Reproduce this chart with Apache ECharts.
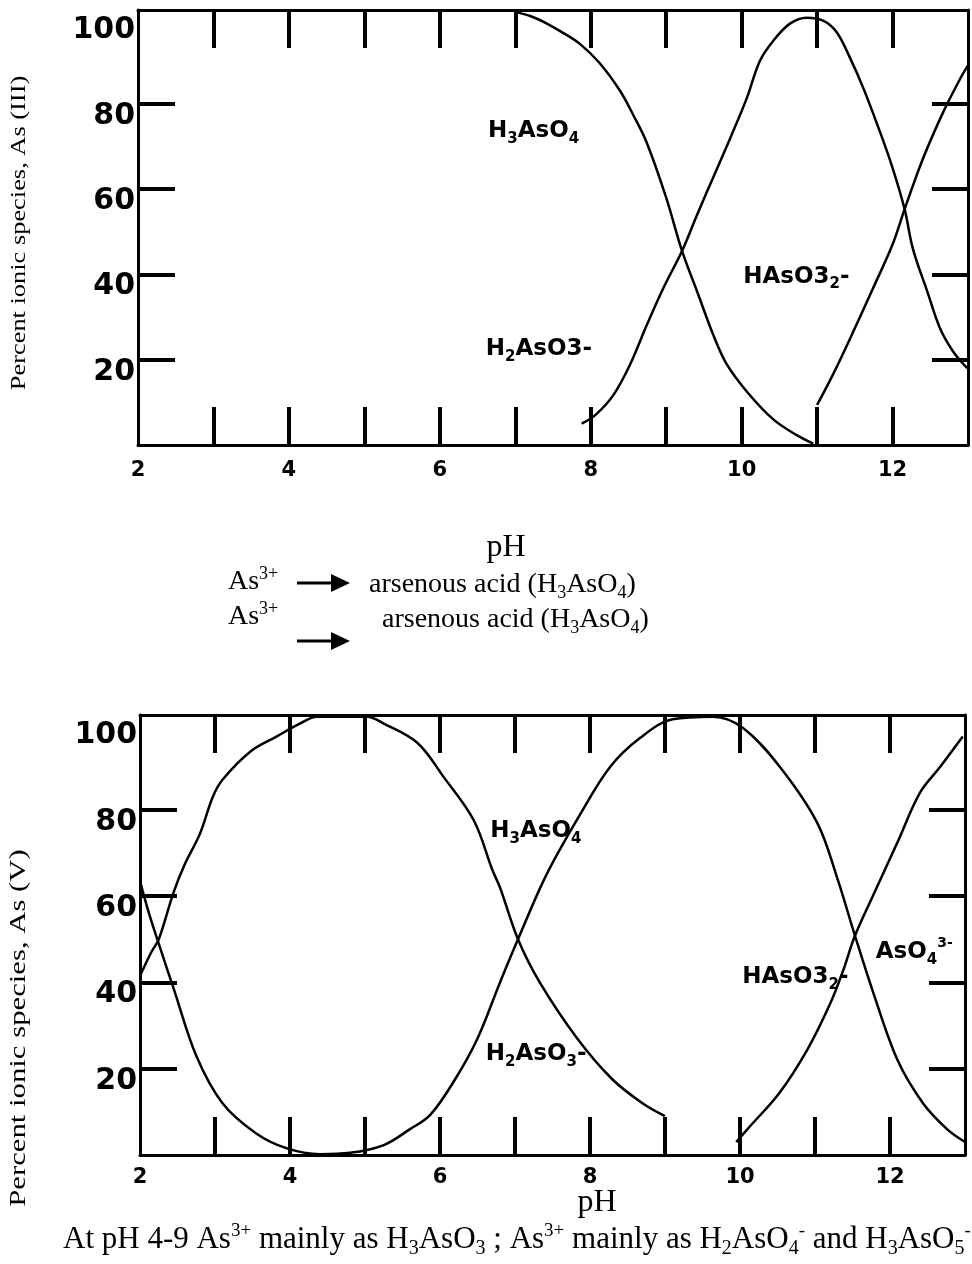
<!DOCTYPE html>
<html>
<head>
<meta charset="utf-8">
<script src="https://cdn.jsdelivr.net/npm/echarts@6/dist/echarts.min.js"></script>
<style>
  html, body { margin: 0; padding: 0; background: #fff; }
  #chart { width: 972px; height: 1264px; }
</style>
</head>
<body>
<div id="chart"></div>
<script>
// ---------- data ----------
const phMin = 2, phMax = 13;
const pctMin = 0, pctMax = 102;
const phTickValues = [3, 4, 5, 6, 7, 8, 9, 10, 11, 12];
const phLabelValues = [2, 4, 6, 8, 10, 12];
const pctTickValues = [20, 40, 60, 80];
const pctLabelValues = [20, 40, 60, 80, 100];

// As(III) panel
const as3_H3AsO4 = [[7.0,101.5],[7.2,100.6],[7.4,99],[7.6,97],[7.86,94],[8.12,89.5],[8.39,83],[8.56,77.5],[8.74,71],[9.0,58],[9.21,45.5],[9.41,36],[9.62,26],[9.8,19],[10.07,12.5],[10.42,6],[10.73,2.3],[10.95,0.3]];
const as3_H2AsO3 = [[7.88,5],[8.06,7],[8.3,11.7],[8.52,18.8],[8.74,28],[8.96,36.7],[9.21,45.5],[9.41,54],[9.62,62.6],[9.85,72],[10.07,81.4],[10.24,90],[10.42,94.8],[10.64,98.8],[10.86,100.2],[11.08,99.5],[11.26,96.8],[11.43,91],[11.61,83.8],[11.83,73.6],[12.0,65],[12.16,55.3],[12.27,46],[12.46,36],[12.63,27.3],[12.8,22],[12.99,18]];
const as3_HAsO3 = [[11.0,9.4],[11.21,16.5],[11.48,26.6],[11.74,36.7],[12.0,47],[12.16,55.3],[12.4,67],[12.67,78],[12.9,86],[13.0,89]];

// As(V) panel
const as5_curveA = [[2.0,63.5],[2.12,56],[2.25,49],[2.45,38.5],[2.75,23],[3.1,12],[3.55,5],[3.95,1.6],[4.4,0.2],[4.8,0.5],[5.25,2.3],[5.6,6],[5.87,9.3],[6.2,17.5],[6.5,27],[6.8,40],[7.04,50],[7.42,65],[7.87,79],[8.27,90],[8.67,96.7],[9.1,101],[9.64,101.6],[10.04,99],[10.53,90],[11.03,77],[11.3,64],[11.53,51],[11.77,38],[12.1,22],[12.44,12],[12.76,6],[13.0,3]];
const as5_curveB = [[2.0,41.5],[2.15,47],[2.25,50],[2.45,61],[2.6,67.5],[2.8,74.5],[2.97,83],[3.1,87],[3.47,93.5],[3.82,97],[4.13,100],[4.36,101.6],[5.03,101.6],[5.25,100],[5.7,95.5],[6.05,87.6],[6.45,77.6],[6.7,66],[6.8,62],[7.04,50],[7.33,40],[7.83,27],[8.3,17.5],[8.7,12],[9.0,9]];
const as5_curveC = [[9.95,3],[10.1,6],[10.53,14.5],[10.9,24.5],[11.2,35],[11.37,42.5],[11.53,50.7],[11.77,60],[12.1,72.5],[12.4,84],[12.67,90],[12.97,97]];

// species annotations: [pH, percent, rich text]
const as3Labels = [
  [6.64, 73.6, '{n|H}{s|3}{n|AsO}{s|4}'],
  [6.61, 22.6, '{n|H}{s|2}{n|AsO3-}'],
  [10.02, 39.5, '{n|HAsO3}{s|2}{n|-}']
];
const as5Labels = [
  [6.67, 75, '{n|H}{s|3}{n|AsO}{s|4}'],
  [6.61, 23.3, '{n|H}{s|2}{n|AsO}{s|3}{n|-}'],
  [10.03, 41.3, '{n|HAsO3}{s|2}{n|-}'],
  [11.81, 47, '{n|AsO}{s|4}{p|3-}']
];

// ---------- chart ----------
const BOLD = 'DejaVu Sans';
const SERIF = 'Liberation Serif';
const black = '#000';

function xAxes(grid, labelMargin) {
  return [
    {
      type: 'value', gridIndex: grid, position: 'bottom', min: phMin, max: phMax, interval: 1,
      axisLine: { show: true, onZero: false, lineStyle: { color: black, width: 3 } },
      axisTick: { show: true, inside: true, length: 38, customValues: phTickValues, lineStyle: { color: black, width: 4 } },
      axisLabel: { show: true, customValues: phLabelValues, margin: labelMargin, color: black, fontFamily: BOLD, fontWeight: 'bold', fontSize: 21 },
      splitLine: { show: false }
    },
    {
      type: 'value', gridIndex: grid, position: 'top', min: phMin, max: phMax, interval: 1,
      axisLine: { show: true, onZero: false, lineStyle: { color: black, width: 3 } },
      axisTick: { show: true, inside: true, length: 38, customValues: phTickValues, lineStyle: { color: black, width: 4 } },
      axisLabel: { show: false },
      splitLine: { show: false }
    }
  ];
}
function yAxes(grid) {
  return [
    {
      type: 'value', gridIndex: grid, position: 'left', min: pctMin, max: pctMax, interval: 20,
      axisLine: { show: true, onZero: false, lineStyle: { color: black, width: 3 } },
      axisTick: { show: true, inside: true, length: 37, customValues: pctTickValues, lineStyle: { color: black, width: 4 } },
      axisLabel: { show: true, customValues: pctLabelValues, margin: 3, color: black, fontFamily: BOLD, fontWeight: 'bold', fontSize: 30, verticalAlign: 'top', lineHeight: 24 },
      splitLine: { show: false }
    },
    {
      type: 'value', gridIndex: grid, position: 'right', min: pctMin, max: pctMax, interval: 20,
      axisLine: { show: true, onZero: false, lineStyle: { color: black, width: 3 } },
      axisTick: { show: true, inside: true, length: 36, customValues: pctTickValues, lineStyle: { color: black, width: 4 } },
      axisLabel: { show: false },
      splitLine: { show: false }
    }
  ];
}

const richSpecies = {
  n: { fontFamily: BOLD, fontWeight: 'bold', fontSize: 23, lineHeight: 31, color: black, opacity: 1 },
  s: { fontFamily: BOLD, fontWeight: 'bold', fontSize: 15, lineHeight: 15, verticalAlign: 'bottom', color: black, opacity: 1 },
  p: { fontFamily: BOLD, fontWeight: 'bold', fontSize: 14, lineHeight: 14, verticalAlign: 'top', color: black, opacity: 1 }
};

function lineSeries(data, xi, yi) {
  return {
    type: 'line', data: data, xAxisIndex: xi, yAxisIndex: yi,
    smooth: 0.35, showSymbol: false, symbol: 'none', silent: true,
    lineStyle: { color: black, width: 2.5 }
  };
}
function labelSeries(list, xi, yi) {
  return {
    type: 'scatter', xAxisIndex: xi, yAxisIndex: yi, silent: true,
    symbol: 'circle', symbolSize: 0,
    itemStyle: { color: black, opacity: 1 },
    label: { show: true, position: 'right', distance: 0, rich: richSpecies, color: black, opacity: 1, textBorderWidth: 0 },
    data: list.map(d => ({ value: [d[0], d[1]], label: { formatter: d[2] } }))
  };
}

const richSerif = {
  n: { fontFamily: SERIF, fontSize: 28, lineHeight: 34, color: black },
  s: { fontFamily: SERIF, fontSize: 18, lineHeight: 18, verticalAlign: 'bottom', color: black },
  p: { fontFamily: SERIF, fontSize: 18, lineHeight: 18, verticalAlign: 'top', color: black }
};
const richCaption = {
  n: { fontFamily: SERIF, fontSize: 31, lineHeight: 37, color: black },
  s: { fontFamily: SERIF, fontSize: 20, lineHeight: 20, verticalAlign: 'bottom', color: black },
  p: { fontFamily: SERIF, fontSize: 19, lineHeight: 19, verticalAlign: 'top', color: black }
};

function txt(x, y, text, rich, align, extra) {
  return Object.assign({
    type: 'text', x: x, y: y, silent: true,
    style: { text: text, rich: rich, align: align || 'left', verticalAlign: 'middle', fill: black }
  }, extra || {});
}
function arrow(x1, x2, y) {
  return {
    type: 'group', silent: true,
    children: [
      { type: 'line', shape: { x1: x1, y1: y, x2: x2 - 14, y2: y }, style: { stroke: black, lineWidth: 3 } },
      { type: 'polygon', shape: { points: [[x2 - 19, y - 9], [x2, y], [x2 - 19, y + 9]] }, style: { fill: black } }
    ]
  };
}

const option = {
  backgroundColor: '#fff',
  animation: false,
  grid: [
    { left: 138, top: 10, width: 830, height: 435 },
    { left: 140, top: 715, width: 825, height: 440 }
  ],
  xAxis: [].concat(xAxes(0, 15), xAxes(1, 12)),
  yAxis: [].concat(yAxes(0), yAxes(1)),
  series: [
    lineSeries(as3_H3AsO4, 0, 0),
    lineSeries(as3_H2AsO3, 0, 0),
    lineSeries(as3_HAsO3, 0, 0),
    labelSeries(as3Labels, 0, 0),
    lineSeries(as5_curveA, 2, 2),
    lineSeries(as5_curveB, 2, 2),
    lineSeries(as5_curveC, 2, 2),
    labelSeries(as5Labels, 2, 2)
  ],
  graphic: [
    // y axis titles
    txt(19, 233, '{n|Percent ionic species, As (III)}', { n: { fontFamily: SERIF, fontSize: 22, color: black } }, 'center',
      { rotation: Math.PI / 2, scaleX: 1.2 }),
    txt(19, 1028, '{n|Percent ionic species, As (V)}', { n: { fontFamily: SERIF, fontSize: 24, color: black } }, 'center',
      { rotation: Math.PI / 2, scaleX: 1.28 }),
    // middle block
    txt(506, 548, '{n|pH}', { n: { fontFamily: SERIF, fontSize: 32, color: black } }, 'center'),
    txt(228, 582, '{n|As}{p|3+}', richSerif),
    arrow(297, 350, 583),
    txt(369, 585, '{n|arsenous acid (H}{s|3}{n|AsO}{s|4}{n|)}', richSerif),
    txt(228, 617, '{n|As}{p|3+}', richSerif),
    arrow(297, 350, 641),
    txt(382, 620, '{n|arsenous acid (H}{s|3}{n|AsO}{s|4}{n|)}', richSerif),
    // bottom block
    txt(597, 1203, '{n|pH}', { n: { fontFamily: SERIF, fontSize: 32, color: black } }, 'center'),
    txt(63, 1240, '{n|At pH 4-9 As}{p|3+}{n| mainly as H}{s|3}{n|AsO}{s|3}{n| ; As}{p|3+}{n| mainly as H}{s|2}{n|AsO}{s|4}{p|-}{n| and H}{s|3}{n|AsO}{s|5}{p|-}', richCaption)
  ]
};

const chart = echarts.init(document.getElementById('chart'), null, { renderer: 'canvas' });
chart.setOption(option);
</script>
</body>
</html>
